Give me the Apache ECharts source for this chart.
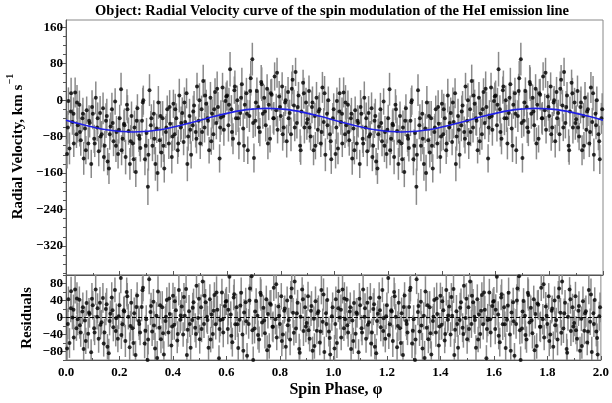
<!DOCTYPE html>
<html>
<head>
<meta charset="utf-8">
<script src="https://cdn.jsdelivr.net/npm/echarts@6/dist/echarts.min.js"></script>
<style>
  html, body { margin: 0; padding: 0; background: #fff; }
  #chart { width: 612px; height: 403px; }
</style>
</head>
<body>
<div id="chart"></div>
<script>
// 自旋相位（一个周期，第二个周期重复画）
const phase = [
  0.004, 0.009, 0.013, 0.019, 0.024, 0.028, 0.034, 0.039, 0.044, 0.050, 0.055, 0.061, 0.066, 0.071, 0.077, 0.083, 0.088, 0.094,
  0.100, 0.105, 0.111, 0.116, 0.122, 0.127, 0.133, 0.138, 0.144, 0.149, 0.155, 0.160, 0.166, 0.171, 0.177, 0.183, 0.188, 0.194,
  0.200, 0.205, 0.211, 0.216, 0.222, 0.227, 0.233, 0.238, 0.244, 0.249, 0.255, 0.260, 0.266, 0.272, 0.277, 0.283, 0.288, 0.294,
  0.300, 0.305, 0.311, 0.316, 0.322, 0.327, 0.333, 0.338, 0.344, 0.349, 0.355, 0.360, 0.366, 0.372, 0.377, 0.383, 0.388, 0.394,
  0.400, 0.405, 0.411, 0.416, 0.422, 0.427, 0.433, 0.438, 0.444, 0.449, 0.455, 0.460, 0.466, 0.472, 0.477, 0.483, 0.488, 0.494,
  0.500, 0.505, 0.511, 0.516, 0.522, 0.527, 0.533, 0.538, 0.544, 0.549, 0.555, 0.560, 0.566, 0.572, 0.577, 0.583, 0.588, 0.594,
  0.600, 0.605, 0.611, 0.616, 0.622, 0.627, 0.633, 0.638, 0.644, 0.649, 0.655, 0.660, 0.666, 0.672, 0.677, 0.683, 0.688, 0.694,
  0.700, 0.705, 0.711, 0.716, 0.722, 0.727, 0.733, 0.738, 0.744, 0.749, 0.755, 0.760, 0.766, 0.772, 0.777, 0.783, 0.788, 0.794,
  0.800, 0.805, 0.811, 0.816, 0.822, 0.827, 0.833, 0.838, 0.844, 0.849, 0.855, 0.860, 0.866, 0.872, 0.877, 0.883, 0.888, 0.894,
  0.900, 0.905, 0.911, 0.916, 0.922, 0.927, 0.933, 0.938, 0.944, 0.949, 0.955, 0.960, 0.966, 0.972, 0.977, 0.983, 0.988, 0.994,
  0.007, 0.018, 0.029, 0.041, 0.052, 0.063, 0.074, 0.086, 0.097,
  0.107, 0.118, 0.129, 0.141, 0.152, 0.163, 0.174, 0.186, 0.197,
  0.207, 0.218, 0.229, 0.241, 0.252, 0.263, 0.274, 0.286, 0.297,
  0.307, 0.318, 0.329, 0.341, 0.352, 0.363, 0.374, 0.386, 0.397,
  0.407, 0.418, 0.429, 0.441, 0.452, 0.463, 0.474, 0.486, 0.497,
  0.507, 0.518, 0.529, 0.541, 0.552, 0.563, 0.574, 0.586, 0.597,
  0.607, 0.618, 0.629, 0.641, 0.652, 0.663, 0.674, 0.686, 0.697,
  0.707, 0.718, 0.729, 0.741, 0.752, 0.763, 0.774, 0.786, 0.797,
  0.807, 0.818, 0.829, 0.841, 0.852, 0.863, 0.874, 0.886, 0.897,
  0.907, 0.918, 0.929, 0.941, 0.952, 0.963, 0.974, 0.986, 0.997
]

// 视向速度 km/s
const rv = [
  -118, -2, -106, 15, -48, -30, 17, -75, -55, -10, -88, -40, -128, -62, -22, -95, -50, -140,
  -30, -85, 5, -60, -112, -28, -75, -18, -100, -45, -135, -150, -58, -20, -90, -3, -70, -118,
  -40, 24, -85, -52, -125, -10, -68, -140, -35, -95, -60, -158, -18, -78, -105, -45, 0, -130,
  -72, -190, 22, -55, -100, -30, -140, -62, -5, -88, -115, -40, -150, -70, -20, -95, -52, -125,
  -8, -75, -40, -110, 10, -60, -28, -92, -48, 15, -80, -35, -120, -55, -12, -70, 30, -45,
  -95, -20, 42, -60, -8, -40, -110, 5, -30, -75, 18, -50, -15, -128, -38, 28, -65, -2,
  10, -55, 68, -20, -85, 22, -40, 0, -95, -28, 35, -62, -10, 15, -110, -35, 48, 90,
  -127, -45, 20, -15, -70, 40, -30, 5, -55, 25, -10, -85, 12, -40, 52, -22, -65, 8,
  -35, 30, -60, -5, -90, 18, -28, -75, 45, -12, 62, -50, 10, -100, -25, 38, -60, -5,
  -42, 20, -80, -15, -110, -35, 5, -65, -20, -95, 28, -48, -120, -30, 0, -75, -130, -40,
  -60, -25, -95, -5, -70, -30, -110, -45, -15,
  -95, -40, -80, -125, -35, -75, -50, -100, -65,
  -110, -55, -20, -90, -130, -45, -85, -5, -100,
  -120, -40, -85, -160, -35, -100, -60, -15, -80,
  -20, -95, -50, -5, -140, -65, -25, -85, 0,
  -70, 10, -45, -90, -20, 25, -60, -35, 8,
  -10, -70, 30, -40, 5, -100, -30, 20, -50,
  -5, -60, 35, -25, -95, 15, -40, 60, -15,
  -75, 0, -40, 25, -60, -15, -110, 15, -50,
  -60, -5, -100, -25, -70, 15, -55, -90, -20
]

// 误差
const rvErr = [
  32, 30, 35, 34, 28, 36, 33, 30, 38, 31, 34, 29, 36, 33, 30, 35, 32, 31,
  34, 31, 36, 30, 33, 37, 29, 35, 32, 38, 30, 34, 31, 36, 33, 29, 35, 32,
  30, 36, 33, 31, 38, 34, 30, 35, 32, 29, 37, 33, 31, 36, 30, 34, 32, 35,
  33, 40, 35, 31, 34, 30, 37, 32, 36, 29, 33, 38, 31, 35, 30, 34, 32, 36,
  31, 35, 33, 30, 37, 32, 34, 29, 36, 33, 31, 38, 30, 35, 32, 34, 30, 36,
  34, 30, 36, 33, 31, 37, 29, 35, 32, 34, 30, 36, 33, 31, 38, 32, 35, 30,
  33, 36, 38, 31, 34, 30, 37, 32, 35, 29, 36, 33, 31, 34, 30, 35, 38, 36,
  32, 35, 30, 34, 31, 37, 33, 29, 36, 32, 34, 30, 35, 33, 31, 36, 30, 34,
  35, 31, 34, 30, 36, 33, 29, 37, 32, 35, 31, 34, 30, 36, 33, 29, 35, 32,
  31, 34, 30, 36, 33, 29, 35, 32, 37, 30, 34, 31, 36, 33, 30, 35, 32, 34,
  36, 33, 30, 38, 32, 35, 31, 34, 37,
  30, 35, 33, 31, 38, 34, 32, 36, 30,
  33, 37, 31, 35, 30, 34, 38, 32, 36,
  35, 31, 34, 40, 33, 36, 30, 37, 32,
  34, 30, 36, 33, 38, 31, 35, 32, 37,
  31, 36, 33, 30, 35, 38, 32, 34, 31,
  37, 32, 35, 30, 34, 36, 31, 38, 33,
  30, 34, 37, 32, 35, 31, 36, 33, 30,
  36, 31, 33, 38, 30, 35, 32, 34, 37,
  33, 35, 30, 36, 32, 38, 31, 34, 35
]

// 残差
const resid = [
  -73, 43, -60, 62, 0, 18, 66, -25, -4, 42, -35, 14, -74, -7, 34, -38, 8, -82,
  29, -25, 66, 2, -50, 35, -11, 46, -35, 20, -69, -84, 9, 47, -23, 65, -2, -50,
  29, 93, -16, 17, -55, 60, 2, -70, 35, -25, 10, -88, 52, -8, -35, 25, 70, -61,
  -4, -100, 90, 13, -33, 37, -73, 4, 61, -24, -51, 24, -87, -8, 41, -35, 8, -66,
  51, -17, 17, -54, 65, -5, 26, -40, 4, 67, -29, 15, -71, -6, 36, -24, 75, -1,
  -51, 24, 85, -15, 36, 2, -71, 43, 7, -39, 53, -16, 18, -96, -6, 59, -35, 27,
  39, -27, 96, 7, -58, 47, -16, 24, -72, -5, 58, -40, 12, 36, -90, -15, 68, 97,
  -100, -26, 39, 4, -52, 58, -12, 23, -37, 43, 8, -67, 30, -22, 70, -4, -47, 26,
  -15, 50, -40, 16, -69, 40, -6, -52, 68, 11, 85, -26, 35, -74, 2, 66, -32, 24,
  -13, 50, -50, 16, -78, -3, 38, -31, 15, -59, 65, -10, -81, 10, 41, -33, -87, 3,
  -15, 22, -47, 45, -18, 24, -55, 12, 44,
  -35, 22, -17, -61, 31, -8, 17, -32, 3,
  -41, 14, 50, -20, -60, 25, -15, 64, -31,
  -52, 27, -19, -95, 29, -37, 2, 45, -21,
  38, -39, 5, 48, -88, -15, 23, -39, 44,
  -27, 51, -6, -52, 16, 59, -27, -4, 37,
  18, -43, 55, -16, 28, -78, -9, 40, -30,
  14, -41, 53, -7, -77, 33, -22, 78, 4,
  -55, 21, -18, 48, -36, 10, -83, 43, -21,
  -30, 27, -67, 10, -33, 54, -15, -48, 24
]

// 拟合曲线
const fitPhase = [0, 0.05, 0.1, 0.15, 0.2, 0.25, 0.3, 0.35, 0.4, 0.45, 0.5, 0.55, 0.6, 0.65, 0.7, 0.75, 0.8, 0.85, 0.9, 0.95, 1.0]
const fitRV = [-44, -52, -59, -65, -68.5, -70, -68.5, -65, -59, -52, -44, -36, -29, -23, -19.5, -18, -19.5, -23, -29, -36, -44]

// 刻度
const xTicks = [0, 0.2, 0.4, 0.6, 0.8, 1.0, 1.2, 1.4, 1.6, 1.8, 2.0]
const rvMajor = [-320, -240, -160, -80, 0, 80, 160]
const rvMinor = [-380, -360, -340, -320, -300, -280, -260, -240, -220, -200, -180, -160, -140, -120, -100, -80, -60, -40, -20, 0, 20, 40, 60, 80, 100, 120, 140, 160]
const resMajor = [-80, -40, 0, 40, 80]
const resMinor = [-100, -80, -60, -40, -20, 0, 20, 40, 60, 80, 100]

const FONT = 'Liberation Serif'
const AXIS_COLOR = '#555'

// 两个周期
const points = []
const resPoints = []
const bars = []
const resBars = []
for (let c = 0; c < 2; c++) {
  for (let i = 0; i < phase.length; i++) {
    const p = phase[i] + c
    points.push([p, rv[i]])
    resPoints.push([p, resid[i]])
    bars.push([p, rv[i] - rvErr[i], rv[i] + rvErr[i]])
    resBars.push([p, resid[i] - rvErr[i], resid[i] + rvErr[i]])
  }
}
const fitLine = []
for (let c = 0; c < 2; c++) {
  for (let i = 0; i < fitPhase.length; i++) {
    if (c === 1 && i === 0) continue
    fitLine.push([fitPhase[i] + c, fitRV[i]])
  }
}

const errorBar = (params, api) => {
  const a = api.coord([api.value(0), api.value(1)])
  const b = api.coord([api.value(0), api.value(2)])
  return {
    type: 'line',
    shape: { x1: a[0], y1: a[1], x2: b[0], y2: b[1] },
    style: { stroke: '#8a8a8a', lineWidth: 1.5 }
  }
}

const labelStyle = { color: '#000', fontFamily: FONT, fontWeight: 'bold', fontSize: 13 }

const xAxisBase = {
  type: 'value', min: 0, max: 2, interval: 0.2,
  axisLine: { onZero: false, lineStyle: { color: AXIS_COLOR } },
  axisTick: { inside: true, length: 4, lineStyle: { color: AXIS_COLOR } },
  minorTick: { show: true, splitNumber: 2, length: 2, lineStyle: { color: AXIS_COLOR } },
  splitLine: { show: false }
}

const option = {
  animation: false,
  grid: [
    { left: 66, right: 9, top: 20, height: 255, show: true, borderColor: '#888', borderWidth: 1 },
    { left: 66, right: 9, top: 275, height: 85, show: true, borderColor: '#888', borderWidth: 1 }
  ],
  xAxis: [
    Object.assign({ gridIndex: 0, axisLabel: { show: false } }, xAxisBase),
    Object.assign({
      gridIndex: 1,
      axisLabel: Object.assign({ margin: 6, customValues: xTicks, formatter: (v) => v.toFixed(1) }, labelStyle)
    }, xAxisBase)
  ],
  yAxis: [
    {
      gridIndex: 0, type: 'value', min: -384, max: 176, position: 'left',
      axisLine: { show: true, onZero: false, lineStyle: { color: AXIS_COLOR } },
      axisTick: { show: true, length: 6, customValues: rvMajor, lineStyle: { color: AXIS_COLOR } },
      axisLabel: Object.assign({ margin: 3, customValues: rvMajor, formatter: (v) => String(v).replace('-', '\u2212') }, labelStyle),
      splitLine: { show: false }
    },
    {
      gridIndex: 1, type: 'value', min: -100, max: 100, position: 'left',
      axisLine: { show: true, onZero: false, lineStyle: { color: AXIS_COLOR } },
      axisTick: { show: true, length: 6, customValues: resMajor, lineStyle: { color: AXIS_COLOR } },
      axisLabel: Object.assign({ margin: 3, customValues: resMajor, formatter: (v) => String(v).replace('-', '\u2212') }, labelStyle),
      splitLine: { show: false }
    },
    {
      gridIndex: 0, type: 'value', min: -384, max: 176, position: 'left',
      axisLine: { show: false, onZero: false },
      axisTick: { show: true, length: 3, customValues: rvMinor, lineStyle: { color: AXIS_COLOR } },
      axisLabel: { show: false },
      splitLine: { show: false }
    },
    {
      gridIndex: 1, type: 'value', min: -100, max: 100, position: 'left',
      axisLine: { show: false, onZero: false },
      axisTick: { show: true, length: 3, customValues: resMinor, lineStyle: { color: AXIS_COLOR } },
      axisLabel: { show: false },
      splitLine: { show: false }
    }
  ],
  series: [
    {
      type: 'custom', xAxisIndex: 0, yAxisIndex: 0, data: bars,
      renderItem: errorBar, clip: true, z: 1
    },
    {
      type: 'scatter', xAxisIndex: 0, yAxisIndex: 0, data: points,
      symbolSize: 4, itemStyle: { color: '#000' }, clip: true, z: 2
    },
    {
      type: 'line', xAxisIndex: 0, yAxisIndex: 0, data: fitLine,
      smooth: true, showSymbol: false, lineStyle: { color: '#1f1fe6', width: 1.6 }, z: 3
    },
    {
      type: 'custom', xAxisIndex: 1, yAxisIndex: 1, data: resBars,
      renderItem: errorBar, clip: true, z: 1
    },
    {
      type: 'scatter', xAxisIndex: 1, yAxisIndex: 1, data: resPoints,
      symbolSize: 4, itemStyle: { color: '#000' }, clip: true, z: 2,
      markLine: {
        silent: true, symbol: 'none', label: { show: false },
        lineStyle: { color: '#000', type: 'dashed', width: 1 },
        data: [{ yAxis: 0 }]
      }
    }
  ],
  graphic: [
    {
      type: 'text', x: 332, y: 11,
      style: { text: 'Object: Radial Velocity curve of the spin modulation of the HeI emission line', fill: '#000', font: 'bold 14.5px "Liberation Serif"', align: 'center', verticalAlign: 'middle' }
    },
    {
      type: 'text', x: 18, y: 152, rotation: Math.PI / 2,
      style: { text: 'Radial Velocity, km s', fill: '#000', font: 'bold 15px "Liberation Serif"', align: 'center', verticalAlign: 'middle' }
    },
    {
      type: 'text', x: 10, y: 79, rotation: Math.PI / 2,
      style: { text: '\u22121', fill: '#000', font: 'bold 10px "Liberation Serif"', align: 'center', verticalAlign: 'middle' }
    },
    {
      type: 'text', x: 27, y: 318, rotation: Math.PI / 2,
      style: { text: 'Residuals', fill: '#000', font: 'bold 15px "Liberation Serif"', align: 'center', verticalAlign: 'middle' }
    },
    {
      type: 'text', x: 336, y: 390,
      style: { text: 'Spin Phase, \u03c6', fill: '#000', font: 'bold 16px "Liberation Serif"', align: 'center', verticalAlign: 'middle' }
    }
  ]
}

const chart = echarts.init(document.getElementById('chart'))
chart.setOption(option)
window.addEventListener('resize', function () {
  chart.resize()
})
</script>
</body>
</html>
